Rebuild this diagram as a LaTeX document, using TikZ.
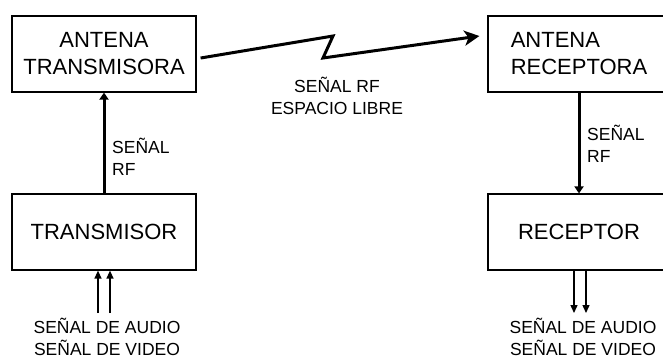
\documentclass[tikz,border=0pt]{standalone}
\usepackage{fontspec}
\setmainfont{Liberation Sans}
\usetikzlibrary{positioning,arrows.meta}

\begin{document}
\begin{tikzpicture}[x=1pt,y=-1pt,
  caja/.style={draw,line width=1.2pt,inner sep=0pt,minimum height=76pt,
    font=\fontsize{22}{27}\selectfont},
  etiq/.style={inner sep=0pt,font=\fontsize{17.5}{21.5}\selectfont},
  rf/.style={line width=3pt,-{Triangle[length=7pt,width=9pt]}},
  senal/.style={line width=1.3pt,-{Triangle[length=8pt,width=7pt]}},
  aire/.style={line width=3pt,line join=miter,-{Stealth[length=15pt,width=15pt,inset=4pt]}}]
\clip (0,0) rectangle (663,360);
% bloques
\node[caja,minimum width=184pt,align=center] (antTx) at (104,54) {ANTENA\\TRANSMISORA};
\node[caja,minimum width=184pt] (tx) at (104,232) {TRANSMISOR};
\node[caja,minimum width=182pt,align=left] (antRx) at (579,54) {ANTENA\\RECEPTORA};
\node[caja,minimum width=182pt] (rx) at (579,232) {RECEPTOR};
% enlace por el aire
\coordinate (z1) at (333,36);
\coordinate (z2) at (323,58);
\coordinate (llega) at ([xshift=-8pt,yshift=18pt]antRx.west);
\draw[aire] ([xshift=4pt,yshift=-4pt]antTx.east) -- (z1) -- (z2) -- (llega);
\node[etiq,align=center] (libre) at (337,96) {SEÑAL RF\\ESPACIO LIBRE};
% senal RF
\draw[rf] (tx.north) -- (antTx.south);
\draw[rf] (antRx.south) -- (rx.north);
\node[etiq,align=left,anchor=west] (rfTx) at (112,157) {SEÑAL\\RF};
\node[etiq,align=left,anchor=west] (rfRx) at (587,144) {SEÑAL\\RF};
% audio y video
\coordinate (inA) at (98,313);
\coordinate (inV) at (110,313);
\draw[senal] (inA) -- (inA |- tx.south);
\draw[senal] (inV) -- (inV |- tx.south);
\node[etiq,align=center] (entrada) at (107,337) {SEÑAL DE AUDIO\\SEÑAL DE VIDEO};
\coordinate (outA) at (574,313);
\coordinate (outV) at (586,313);
\draw[senal] (outA |- rx.south) -- (outA);
\draw[senal] (outV |- rx.south) -- (outV);
\node[etiq,align=center] (salida) at (583,337) {SEÑAL DE AUDIO\\SEÑAL DE VIDEO};
\end{tikzpicture}
\end{document}
